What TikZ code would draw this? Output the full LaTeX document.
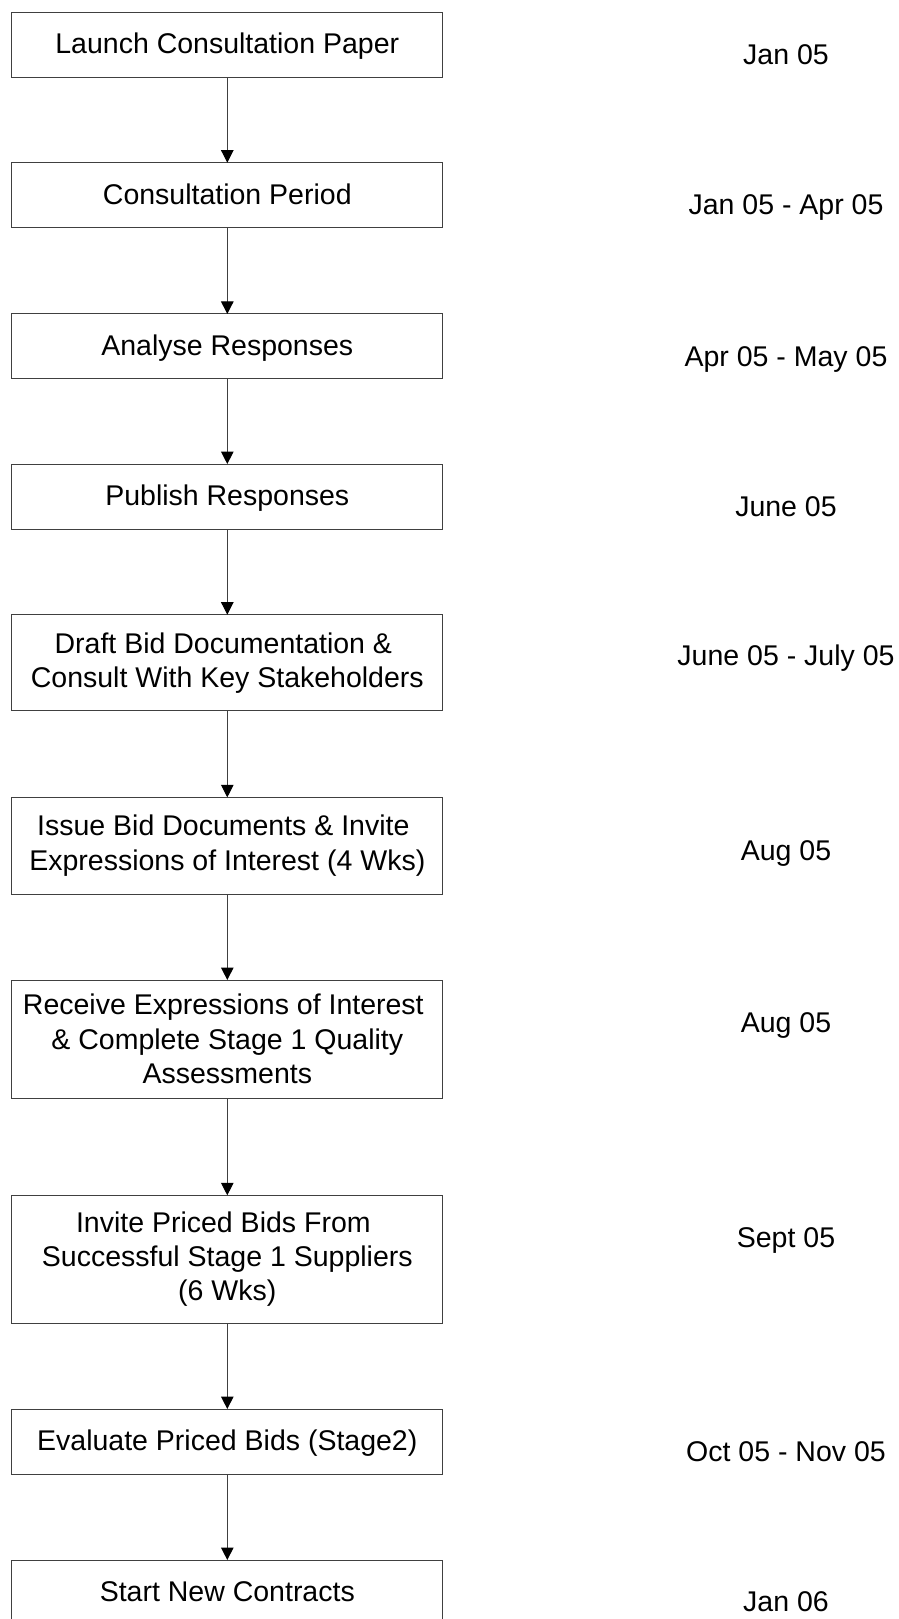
\documentclass[tikz,border=0pt]{standalone}
\usepackage{fontspec}
\setmainfont{Liberation Sans}
\usetikzlibrary{arrows.meta}
\newcommand{\trsp}[1][1]{\hspace*{#1\fontdimen2\font}}
\begin{document}
\begin{tikzpicture}[x=1pt,y=-1pt,
  stepbox/.style={draw=black!75, line width=1pt, fill=white, minimum width=430.7pt,
    inner sep=0pt, outer sep=0pt, align=center,
    font=\fontsize{28.5}{34.3}\selectfont},
  onebox/.style={stepbox, text height=20.5pt, text depth=2.5pt},
  datelbl/.style={anchor=base, inner sep=0pt, font=\fontsize{28.5}{34.3}\selectfont},
  flow/.style={draw=black!75, line width=1pt, -{Triangle[length=12.5pt,width=12.5pt,color=black]}}
]
\useasboundingbox (0,0) rectangle (898,1619);
\fill[white] (0,0) rectangle (898,1619);

% boxes
\node[onebox, minimum height=64.6pt] (b1) at (227.3,45) {Launch Consultation Paper};
\node[onebox, minimum height=65.3pt] (b2) at (227.3,195.3) {Consultation Period};
\node[onebox, minimum height=64.7pt] (b3) at (227.3,346.3) {Analyse Responses};
\node[onebox, minimum height=65.3pt] (b4) at (227.3,496.7) {Publish Responses};
\node[stepbox, minimum height=96.3pt] (b5) at (227.3,662.8) {Draft Bid Documentation \&\trsp\\Consult With Key Stakeholders};
\node[stepbox, minimum height=96.7pt] (b6) at (227.3,845.7) {Issue Bid Documents \& Invite\trsp\\Expressions of Interest (4 Wks)};
\node[stepbox, minimum height=118pt] (b7) at (227.3,1039) {Receive Expressions of Interest\trsp\\\& Complete Stage 1 Quality\trsp\\Assessments};
\node[stepbox, minimum height=128pt] (b8) at (227.3,1259.3) {Invite Priced Bids From\trsp\\Successful Stage 1 Suppliers\trsp[3]\\(6 Wks)};
\node[onebox, minimum height=65pt] (b9) at (227.3,1441.5) {Evaluate Priced Bids (Stage2)};
\node[onebox, minimum height=64.6pt] (b10) at (227.3,1592.3) {Start New Contracts};

% connectors
\draw[flow] (b1) -- (b2);
\draw[flow] (b2) -- (b3);
\draw[flow] (b3) -- (b4);
\draw[flow] (b4) -- (b5);
\draw[flow] (b5) -- (b6);
\draw[flow] (b6) -- (b7);
\draw[flow] (b7) -- (b8);
\draw[flow] (b8) -- (b9);
\draw[flow] (b9) -- (b10);

% dates
\node[datelbl] (d1) at (786,65) {Jan 05};
\node[datelbl] (d2) at (786,214) {Jan 05 - Apr 05};
\node[datelbl] (d3) at (786,366) {Apr 05 - May 05};
\node[datelbl] (d4) at (786,516) {June 05};
\node[datelbl] (d5) at (786,665) {June 05 - July 05};
\node[datelbl] (d6) at (786,860) {Aug 05};
\node[datelbl] (d7) at (786,1032) {Aug 05};
\node[datelbl] (d8) at (786,1247) {Sept 05};
\node[datelbl] (d9) at (786,1461.7) {Oct 05 - Nov 05};
\node[datelbl] (d10) at (786,1611.7) {Jan 06};
\end{tikzpicture}
\end{document}
